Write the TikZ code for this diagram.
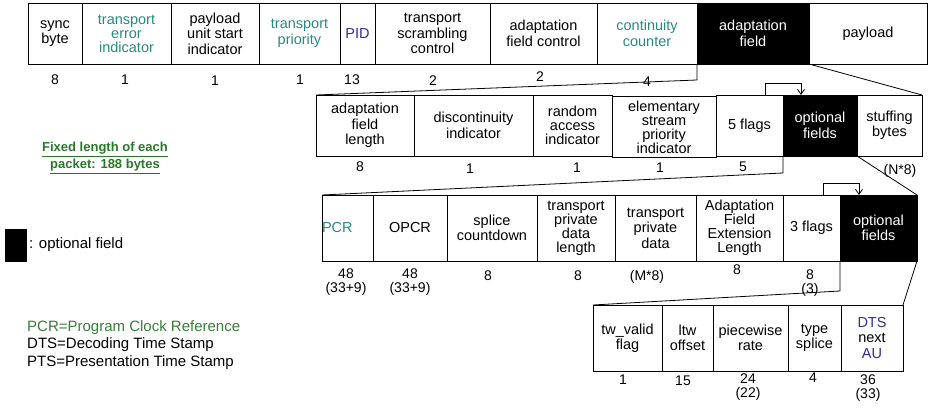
\documentclass[tikz,border=0pt]{standalone}
\usepackage{fontspec}
\setmainfont{Liberation Sans}
\usetikzlibrary{arrows.meta}
\definecolor{tealtxt}{RGB}{40,135,130}
\definecolor{navytxt}{RGB}{45,45,150}
\definecolor{greentxt}{RGB}{40,120,40}
\definecolor{pcrgreen}{RGB}{55,125,55}
\begin{document}
\begin{tikzpicture}[x=1pt,y=-1pt,
  cell/.style={draw,line width=0.8pt,inner sep=0pt,outer sep=0pt,align=center,
    font=\fontsize{14.5}{15.5}\selectfont},
  blk/.style={cell,fill=black,text=white},
  num/.style={inner sep=0pt,align=center,font=\fontsize{14}{13.5}\selectfont},
  link/.style={line width=0.8pt},
  hook/.style={line width=0.8pt,-{Straight Barb[length=5pt,width=7pt]}}]
\useasboundingbox (0,0) rectangle (929,412);

% ---------- row 1 ----------
\begin{scope}[every node/.append style={minimum height=61}]
\node[cell,minimum width=54] (sync) at (55,33.5) {sync\\byte};
\node[cell,minimum width=89,text=tealtxt,font=\fontsize{14.5}{14}\selectfont] (tei) at (126.5,33.5) {transport\\error\\indicator};
\node[cell,minimum width=88] (pusi) at (215,33.5) {payload\\unit start\\indicator};
\node[cell,minimum width=81,text=tealtxt] (tp) at (299.5,33.5) {transport\\priority};
\node[cell,minimum width=35,text=navytxt] (pid) at (357.5,33.5) {PID};
\node[cell,minimum width=115] (tsc) at (432.5,33.5) {transport\\scrambling\\control};
\node[cell,minimum width=107] (afc) at (543.5,33.5) {adaptation\\field control};
\node[cell,minimum width=100,text=tealtxt] (cc) at (647,33.5) {continuity\\counter};
\node[blk,minimum width=112] (af) at (753,33.5) {adaptation\\field};
\node[cell,minimum width=118] (pl) at (868,33.5) {payload};
\end{scope}
\node[num] (n1a) at (55,80) {8};
\node[num] (n1b) at (125,80) {1};
\node[num] (n1c) at (215,81) {1};
\node[num] (n1d) at (300,80) {1};
\node[num] (n1e) at (352,80) {13};
\node[num] (n1f) at (433,81) {2};
\node[num] (n1g) at (540,77) {2};
\node[num] (n1h) at (647,82) {4};

% ---------- row 2 ----------
\begin{scope}[every node/.append style={minimum height=61}]
\node[cell,minimum width=98] (afl) at (365,125.5) {adaptation\\field\\length};
\node[cell,minimum width=119] (di) at (473.5,125.5) {discontinuity\\indicator};
\node[cell,minimum width=79,font=\fontsize{14.5}{14}\selectfont] (rai) at (572.5,125.5) {random\\access\\indicator};
\node[cell,minimum width=104,font=\fontsize{14.5}{14}\selectfont] (espi) at (664,127) {elementary\\stream\\priority\\indicator};
\node[cell,minimum width=67] (f5) at (749.5,125.5) {5 flags};
\node[blk,minimum width=74] (opt2) at (820,125.5) {optional\\fields};
\node[cell,minimum width=65] (sb) at (889.5,125.5) {stuffing\\bytes};
\end{scope}
\node[num] (n2a) at (360,167) {8};
\node[num] (n2b) at (470,169) {1};
\node[num] (n2c) at (577,168) {1};
\node[num] (n2d) at (660,168) {1};
\node[num] (n2e) at (743,167) {5};
\node[num] (n2f) at (900,171) {(N*8)};

% ---------- row 3 ----------
\begin{scope}[every node/.append style={minimum height=66}]
\node[cell,minimum width=51,text width=51,align=left,text=tealtxt] (pcr) at (347.5,228) {PCR};
\node[cell,minimum width=74] (opcr) at (410,228) {OPCR};
\node[cell,minimum width=90] (sc) at (492,228) {splice\\countdown};
\node[cell,minimum width=78,font=\fontsize{14.5}{14}\selectfont] (tpdl) at (576,228) {transport\\private\\data\\length};
\node[cell,minimum width=81] (tpd) at (655.5,228) {transport\\private\\data};
\node[cell,minimum width=87,font=\fontsize{14.5}{14}\selectfont] (afel) at (739.5,228) {Adaptation\\Field\\Extension\\Length};
\node[cell,minimum width=57] (f3) at (811.5,228) {3 flags};
\node[blk,minimum width=77] (opt3) at (878.5,228) {optional\\fields};
\end{scope}
\node[num] (n3a) at (346,282) {48\\(33+9)};
\node[num] (n3b) at (410,282) {48\\(33+9)};
\node[num] (n3c) at (488,276) {8};
\node[num] (n3d) at (578,276) {8};
\node[num] (n3e) at (647,277) {(M*8)};
\node[num] (n3f) at (737,270) {8};
\node[num] (n3g) at (810,283) {8\\(3)};

% ---------- row 4 ----------
\begin{scope}[every node/.append style={minimum height=66}]
\node[cell,minimum width=69] (tw) at (627.5,338) {tw\_valid\\flag};
\node[cell,minimum width=51] (ltw) at (687.5,338) {ltw\\offset};
\node[cell,minimum width=75] (pr) at (750.5,338) {piecewise\\rate};
\node[cell,minimum width=53] (ts) at (814.5,338) {type\\splice};
\node[cell,minimum width=62] (dts) at (872,338) {\textcolor{navytxt}{DTS}\\next\\\textcolor{navytxt}{AU}};
\end{scope}
\node[num] (n4a) at (623,380) {1};
\node[num] (n4b) at (683,381) {15};
\node[num] (n4c) at (748,387) {24\\(22)};
\node[num] (n4d) at (813,378) {4};
\node[num] (n4e) at (868,388) {36\\(33)};

% ---------- expansion connectors ----------
\draw[link] (af.south west) -- ++(0,16) -- (afl.north west);
\draw[link] (af.south east) -- (sb.north east);
\draw[link] (opt2.south west) -- ++(0,17) -- (pcr.north west);
\draw[link] (opt2.south east) -- (opt3.north east);
\draw[link] (opt3.south west) -- ++(0,30) -- (tw.north west);
\draw[link] (opt3.south east) -- (dts.north east);

% ---------- flag hooks ----------
\draw[hook] ([xshift=-18pt]f5.north east) -- ++(0,-12) -| ([xshift=18pt]opt2.north west);
\draw[hook] ([xshift=-17pt]f3.north east) -- ++(0,-12) -| ([xshift=19pt]opt3.north west);

% ---------- legends ----------
\node[inner sep=0pt,align=center,text=greentxt,font=\fontsize{13}{17}\selectfont\bfseries] (fixed) at (105,158)
  {\underline{Fixed length of each}\\\underline{packet: 188 bytes}};
\node[fill=black,minimum width=22,minimum height=33,inner sep=0pt] (legbox) at (16,245) {};
\node[anchor=west,inner sep=0pt,font=\fontsize{15}{17}\selectfont] (legtxt) at (29,245) {: optional field};
\node[anchor=west,inner sep=0pt,align=left,font=\fontsize{15}{17.5}\selectfont] (abbr) at (27,345)
  {\textcolor{pcrgreen}{PCR=Program Clock Reference}\\DTS=Decoding Time Stamp\\PTS=Presentation Time Stamp};
\end{tikzpicture}
\end{document}
